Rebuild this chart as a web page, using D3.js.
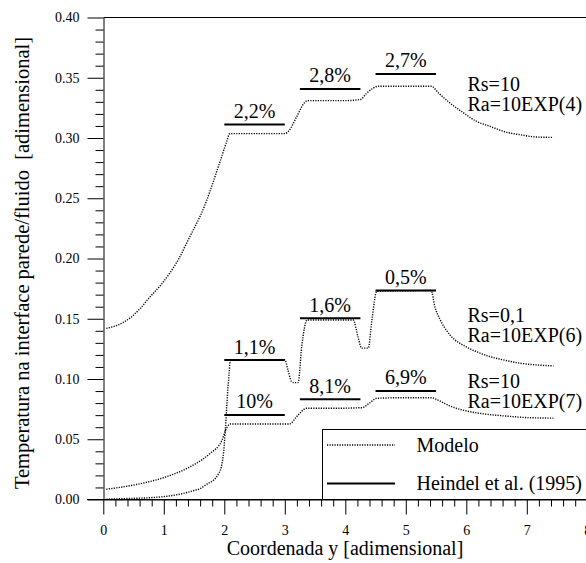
<!DOCTYPE html>
<html>
<head>
<meta charset="utf-8">
<script src="https://cdn.jsdelivr.net/npm/d3@7"></script>
<style>
  html, body { margin: 0; padding: 0; background: #fff; }
  svg, svg text { font-family: "Liberation Serif", "Times New Roman", Times, "DejaVu Serif", serif !important; }
</style>
</head>
<body>
<svg id="chart" width="586" height="563"></svg>
<script>
// ---------------- data ----------------
const xTickValues = [0, 1, 2, 3, 4, 5, 6, 7, 8];
const yTickValues = [0, 0.05, 0.10, 0.15, 0.20, 0.25, 0.30, 0.35, 0.40];

// Modelo, Rs=10, Ra=10EXP(4)
const xModelo1 = [0.05, 0.25, 0.44, 0.60, 0.77, 0.95, 1.10, 1.25, 1.38, 1.50, 1.60, 1.70, 1.82, 1.92, 2.04, 2.09, 2.50, 3.00, 3.06, 3.20, 3.32, 3.37, 4.00, 4.25, 4.35, 4.45, 4.55, 5.00, 5.42, 5.54, 5.73, 5.95, 6.17, 6.39, 6.67, 6.89, 7.16, 7.44];
const yModelo1 = [0.142, 0.145, 0.1505, 0.158, 0.168, 0.178, 0.188, 0.200, 0.213, 0.225, 0.235, 0.247, 0.264, 0.279, 0.297, 0.3036, 0.3036, 0.3036, 0.3055, 0.318, 0.329, 0.331, 0.331, 0.332, 0.337, 0.341, 0.343, 0.343, 0.343, 0.3374, 0.329, 0.321, 0.3138, 0.3097, 0.3047, 0.3027, 0.3008, 0.3005];

// Modelo, Rs=0,1, Ra=10EXP(6)
const xModelo2 = [0.05, 0.40, 0.77, 1.10, 1.32, 1.50, 1.60, 1.72, 1.82, 1.90, 1.95, 1.99, 2.02, 2.05, 2.08, 2.10, 2.50, 3.00, 3.05, 3.11, 3.15, 3.22, 3.28, 3.37, 3.80, 4.13, 4.21, 4.27, 4.38, 4.44, 4.52, 5.00, 5.42, 5.48, 5.57, 5.73, 6.01, 6.20, 6.39, 6.60, 6.89, 7.15, 7.44];
const yModelo2 = [0.0003, 0.0008, 0.0015, 0.003, 0.005, 0.0075, 0.009, 0.013, 0.016, 0.021, 0.027, 0.040, 0.060, 0.085, 0.105, 0.116, 0.116, 0.116, 0.108, 0.098, 0.097, 0.097, 0.127, 0.149, 0.149, 0.149, 0.135, 0.1256, 0.1256, 0.149, 0.1728, 0.1732, 0.1734, 0.160, 0.149, 0.1366, 0.1264, 0.122, 0.1186, 0.116, 0.1131, 0.1117, 0.1109];

// Modelo, Rs=10, Ra=10EXP(7)
const xModelo3 = [0.05, 0.50, 1.05, 1.49, 1.76, 1.96, 2.04, 2.10, 2.60, 3.08, 3.20, 3.36, 3.80, 4.27, 4.40, 4.52, 5.00, 5.42, 5.55, 5.76, 6.00, 6.30, 6.60, 7.00, 7.44];
const yModelo3 = [0.0085, 0.012, 0.019, 0.0287, 0.038, 0.049, 0.0595, 0.0627, 0.0627, 0.0627, 0.069, 0.0757, 0.0757, 0.0762, 0.080, 0.0840, 0.0845, 0.0845, 0.082, 0.077, 0.0735, 0.071, 0.0695, 0.068, 0.0675];

// Heindel et al. (1995): heater segments
const heindelStart = [2.0, 3.25, 4.5];
const heindelEnd   = [3.0, 4.25, 5.5];
const heindel1 = [0.3111, 0.3407, 0.3532];
const heindel2 = [0.1157, 0.1505, 0.1734];
const heindel3 = [0.0702, 0.0832, 0.0901];
const errors1 = ["2,2%", "2,8%", "2,7%"];
const errors2 = ["1,1%", "1,6%", "0,5%"];
const errors3 = ["10%", "8,1%", "6,9%"];

const caseRs = ["Rs=10", "Rs=0,1", "Rs=10"];
const caseRa = ["Ra=10EXP(4)", "Ra=10EXP(6)", "Ra=10EXP(7)"];

const legendLabels = ["Modelo", "Heindel et al. (1995)"];

// ---------------- layout ----------------
const svg = d3.select("#chart");
const x = d3.scaleLinear().domain([0, 8]).range([103.3, 587.3]);
const y = d3.scaleLinear().domain([0, 0.4]).range([499.5, 17.5]);
const FONT = '"Liberation Serif", "Times New Roman", Times, "DejaVu Serif", serif';

function txt(sel, size) {
  return sel.style("font-family", FONT).style("font-size", size + "px").attr("fill", "#000");
}

// minor ticks
const yMinor = d3.range(0, 0.4001, 0.01).filter(v => Math.abs(v / 0.05 - Math.round(v / 0.05)) > 1e-6);
const xMinor = d3.range(0, 8.001, 0.2).filter(v => Math.abs(v - Math.round(v)) > 1e-6);

// Y axis
const gy = svg.append("g").attr("transform", "translate(103.5,0)");
gy.call(d3.axisLeft(y).tickValues(yMinor).tickSize(8).tickFormat(""))
  .call(g => g.select(".domain").remove());
const gy2 = svg.append("g").attr("transform", "translate(103.5,0)");
gy2.call(d3.axisLeft(y).tickValues(yTickValues).tickSize(16).tickPadding(8).tickFormat(d3.format(".2f")).tickSizeOuter(0));
gy2.attr("font-family", null);
txt(gy2.selectAll("text"), 14);

// X axis
const gx = svg.append("g").attr("transform", "translate(0,499.5)");
gx.call(d3.axisBottom(x).tickValues(xMinor).tickSize(7).tickFormat(""))
  .call(g => g.select(".domain").remove());
const gx2 = svg.append("g").attr("transform", "translate(0,499.5)");
gx2.call(d3.axisBottom(x).tickValues(xTickValues).tickSize(15).tickPadding(10.5).tickFormat(d3.format("d")).tickSizeOuter(0));
gx2.attr("font-family", null);
txt(gx2.selectAll("text"), 14);

svg.selectAll(".tick line, .domain").attr("stroke", "#000");

// frame extensions
svg.append("line").attr("x1", 87).attr("x2", 586).attr("y1", 499.5).attr("y2", 499.5).attr("stroke", "#000");
svg.append("line").attr("x1", 103.5).attr("x2", 586).attr("y1", 17.5).attr("y2", 17.5).attr("stroke", "#000");

// axis titles
txt(svg.append("text").attr("x", 345).attr("y", 555).attr("text-anchor", "middle"), 20)
  .text("Coordenada y [adimensional]");
txt(svg.append("text").attr("transform", "translate(29,263) rotate(-90)").attr("text-anchor", "middle"), 20.5)
  .style("white-space", "pre")
  .text("Temperatura na interface parede/fluido  [adimensional]");

// model curves
const line = d3.line().x(d => x(d[0])).y(d => y(d[1])).curve(d3.curveMonotoneX);
[[xModelo1, yModelo1], [xModelo2, yModelo2], [xModelo3, yModelo3]].forEach(([xs, ys]) => {
  svg.append("path").datum(xs.map((v, i) => [v, ys[i]]))
    .attr("d", line).attr("fill", "none").attr("stroke", "#000")
    .attr("stroke-width", 1.4).attr("stroke-dasharray", "1.2,1.3");
});

// Heindel segments + error labels
[[heindel1, errors1], [heindel2, errors2], [heindel3, errors3]].forEach(([hs, labs]) => {
  hs.forEach((v, i) => {
    svg.append("line").attr("x1", x(heindelStart[i])).attr("x2", x(heindelEnd[i]))
      .attr("y1", y(v)).attr("y2", y(v)).attr("stroke", "#000").attr("stroke-width", 2);
    txt(svg.append("text").attr("x", x((heindelStart[i] + heindelEnd[i]) / 2)).attr("y", y(v) - 6.5)
      .attr("text-anchor", "middle"), 20).text(labs[i]);
  });
});

// case annotations
const caseX = [467.5, 467.5, 467.5];
const caseY = [91, 322, 388];
caseRs.forEach((t, i) => {
  txt(svg.append("text").attr("x", caseX[i]).attr("y", caseY[i]), 20).text(t);
  txt(svg.append("text").attr("x", caseX[i]).attr("y", caseY[i] + 20), 20).text(caseRa[i]);
});

// legend
const lg = svg.append("g");
lg.append("rect").attr("x", 322.5).attr("y", 429.5).attr("width", 300).attr("height", 70)
  .attr("fill", "#fff").attr("stroke", "#000");
lg.append("line").attr("x1", 327).attr("x2", 395).attr("y1", 445).attr("y2", 445)
  .attr("stroke", "#000").attr("stroke-width", 1.4).attr("stroke-dasharray", "1.2,1.3");
lg.append("line").attr("x1", 327).attr("x2", 395).attr("y1", 483.5).attr("y2", 483.5)
  .attr("stroke", "#000").attr("stroke-width", 2);
txt(lg.append("text").attr("x", 416.5).attr("y", 452), 20).text(legendLabels[0]);
txt(lg.append("text").attr("x", 416.5).attr("y", 490), 20).text(legendLabels[1]);
</script>
</body>
</html>
